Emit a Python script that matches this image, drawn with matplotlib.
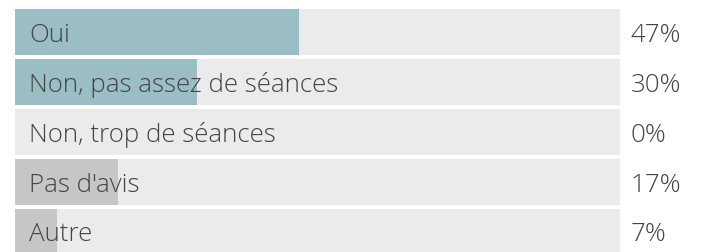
import matplotlib
matplotlib.use("Agg")
import matplotlib.pyplot as plt

# --- données ---
categories = ["Oui", "Non, pas assez de séances", "Non, trop de séances", "Pas d'avis", "Autre"]
values = [47, 30, 0, 17, 7]
bar_colors = ["#9bbdc4", "#9bbdc4", "#9bbdc4", "#c5c7c6", "#c5c7c6"]

plt.rcParams['font.family'] = ['Open Sans', 'DejaVu Sans']

W, H = 706, 252
fig = plt.figure(figsize=(W / 100, H / 100), dpi=100)
ax = fig.add_axes([15 / W, 0, 605 / W, 1])

rows = list(range(len(categories)))
# fond gris clair (100 %)
ax.barh(rows, [100] * len(rows), height=0.92, color="#ebebeb", align="center")
ax.barh(rows, values, height=0.92, color=bar_colors, align="center")

for i, (lab, v) in enumerate(zip(categories, values)):
    ax.text(14 / 605 * 100, i + 0.06, lab, va="center", ha="left",
            fontsize=18.6, fontweight="light", color="#454545")
    ax.text(101.8, i + 0.06, f"{v}%", va="center", ha="left",
            fontsize=18.6, fontweight="light", color="#454545", clip_on=False)

ax.set_xlim(0, 100)
ax.set_ylim(4.4, -0.64)
ax.axis("off")

fig.savefig("out.png", dpi=100)
